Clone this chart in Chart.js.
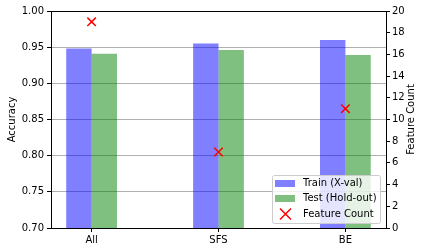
<!DOCTYPE html>
<html>
<head>
    <meta charset='utf-8'>
    <title>Accuracy vs Feature Count</title>
    <script src="https://cdn.jsdelivr.net/npm/chart.js@4"></script>
    <style>
        body { margin: 0; background: #fff; }
        canvas { display: block; }
    </style>
    <script>
        // datos
        const categories = ['All', 'SFS', 'BE'];
        const trainAcc = [0.948, 0.955, 0.960];
        const testAcc = [0.941, 0.946, 0.939];
        const featureCount = [19, 7, 11];
        const legendLabels = ['Train (X-val)', 'Test (Hold-out)', 'Feature Count'];

        const FONT = { family: 'DejaVu Sans', size: 10 };
        const BLUE = 'rgba(0,0,255,0.5)';
        const GREEN = 'rgba(0,128,0,0.5)';

        // marco negro + leyenda dentro del area + titulo eje derecho (girado hacia arriba)
        const marcoLeyenda = {
            id: 'marcoLeyenda',
            afterDraw(chart) {
                const ctx = chart.ctx;
                const a = chart.chartArea;
                ctx.save();
                ctx.strokeStyle = '#000';
                ctx.lineWidth = 1;
                ctx.strokeRect(Math.round(a.left) + 0.5, Math.round(a.top) + 0.5,
                    Math.round(a.right - a.left), Math.round(a.bottom - a.top));

                // titulo del eje derecho
                ctx.save();
                ctx.translate(411, (a.top + a.bottom) / 2);
                ctx.rotate(-Math.PI / 2);
                ctx.fillStyle = '#000';
                ctx.font = '10px "DejaVu Sans"';
                ctx.textAlign = 'center';
                ctx.textBaseline = 'middle';
                ctx.fillText('Feature Count', 0, 0);
                ctx.restore();

                // leyenda
                const lx = 272, ly = 175, lw = 108, lh = 48;
                ctx.beginPath();
                ctx.roundRect(lx + 0.5, ly + 0.5, lw, lh, 2);
                ctx.fillStyle = 'rgba(255,255,255,0.8)';
                ctx.fill();
                ctx.strokeStyle = '#cccccc';
                ctx.stroke();

                const rows = [183.5, 198.5, 214];
                ctx.fillStyle = '#fff';
                ctx.fillRect(275, rows[0] - 3.5, 20, 7);
                ctx.fillRect(275, rows[1] - 3.5, 20, 7);
                ctx.fillStyle = BLUE;
                ctx.fillRect(275, rows[0] - 3.5, 20, 7);
                ctx.fillStyle = GREEN;
                ctx.fillRect(275, rows[1] - 3.5, 20, 7);
                ctx.strokeStyle = 'red';
                ctx.lineWidth = 1.5;
                ctx.beginPath();
                ctx.moveTo(280, rows[2] - 5.5); ctx.lineTo(291, rows[2] + 5.5);
                ctx.moveTo(291, rows[2] - 5.5); ctx.lineTo(280, rows[2] + 5.5);
                ctx.stroke();

                ctx.fillStyle = '#000';
                ctx.font = '10px "DejaVu Sans"';
                ctx.textBaseline = 'middle';
                for (let i = 0; i < legendLabels.length; i++) {
                    ctx.fillText(legendLabels[i], 303, rows[i]);
                }
                ctx.restore();
            }
        };

        function dibujarGrafico() {
            const ctx = document.getElementById('myChart').getContext('2d');
            new Chart(ctx, {
                type: 'bar',
                data: {
                    datasets: [{
                        label: legendLabels[0],
                        data: categories.map((c, i) => ({ x: i, y: trainAcc[i] })),
                        backgroundColor: BLUE,
                        categoryPercentage: 0.4,
                        barPercentage: 1,
                        yAxisID: 'y',
                        order: 2
                    }, {
                        label: legendLabels[1],
                        data: categories.map((c, i) => ({ x: i, y: testAcc[i] })),
                        backgroundColor: GREEN,
                        categoryPercentage: 0.4,
                        barPercentage: 1,
                        yAxisID: 'y',
                        order: 2
                    }, {
                        type: 'scatter',
                        label: legendLabels[2],
                        data: categories.map((c, i) => ({ x: i, y: featureCount[i] })),
                        pointStyle: 'crossRot',
                        pointRadius: 6,
                        borderColor: '#ff0000',
                        backgroundColor: '#ff0000',
                        borderWidth: 1.5,
                        yAxisID: 'y1',
                        order: 0
                    }]
                },
                options: {
                    responsive: false,
                    animation: false,
                    devicePixelRatio: 1,
                    layout: { padding: { top: 11, left: 0, right: 0, bottom: 0 } },
                    plugins: { legend: { display: false }, tooltip: { enabled: false } },
                    scales: {
                        x: {
                            type: 'linear',
                            offset: false,
                            min: -0.32,
                            max: 2.32,
                            afterBuildTicks: s => { s.ticks = categories.map((c, i) => ({ value: i })); },
                            afterFit: s => { s.height = 24; },
                            ticks: {
                                callback: v => categories[v],
                                font: FONT, color: '#000', padding: 2, maxRotation: 0
                            },
                            grid: { offset: false, drawOnChartArea: false, tickColor: '#000', tickLength: 4 },
                            border: { display: false }
                        },
                        y: {
                            position: 'left',
                            min: 0.7,
                            max: 1.0,
                            ticks: {
                                stepSize: 0.05,
                                callback: v => v.toFixed(2),
                                font: FONT, color: '#000', padding: 3
                            },
                            afterFit: s => { s.width = 51; },
                            grid: { color: '#b0b0b0', lineWidth: 1, tickColor: '#000', tickLength: 4 },
                            border: { display: false },
                            title: { display: true, text: 'Accuracy', font: FONT, color: '#000', padding: { top: 6, bottom: 0 } }
                        },
                        y1: {
                            position: 'right',
                            min: 0,
                            max: 20,
                            ticks: { stepSize: 2, font: FONT, color: '#000', padding: 2 },
                            afterFit: s => { s.width = 40; },
                            grid: { drawOnChartArea: false, tickColor: '#000', tickLength: 4 },
                            border: { display: false },
                            title: { display: false }
                        }
                    }
                },
                plugins: [marcoLeyenda]
            });
        }
        onload = dibujarGrafico;
    </script>
</head>
<body>
    <canvas id="myChart" width="426" height="252"></canvas>
</body>
</html>
